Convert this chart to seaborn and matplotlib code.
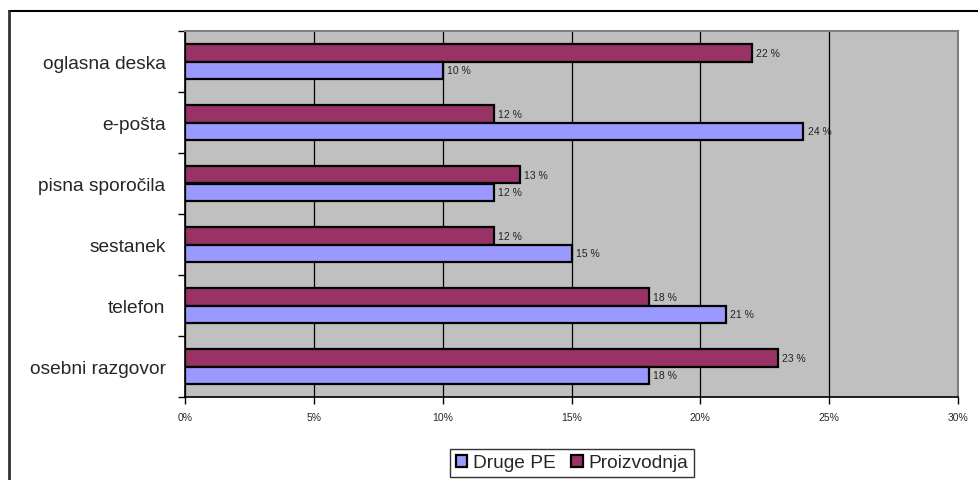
import matplotlib
matplotlib.use("Agg")
import matplotlib.pyplot as plt
from matplotlib.patches import Patch
from matplotlib.lines import Line2D
import seaborn as sns
import pandas as pd

categories = ["oglasna deska", "e-pošta", "pisna sporočila", "sestanek", "telefon", "osebni razgovor"]
proizvodnja = [22, 12, 13, 12, 18, 23]
druge_pe = [10, 24, 12, 15, 21, 18]
series_names = ["Druge PE", "Proizvodnja"]
x_ticks = [0, 5, 10, 15, 20, 25, 30]

df = pd.DataFrame({
    "kategorija": categories * 2,
    "delez": proizvodnja + druge_pe,
    "skupina": ["Proizvodnja"] * len(categories) + ["Druge PE"] * len(categories),
})

sns.set_style("white")
plt.rcParams["font.family"] = ["Liberation Sans", "DejaVu Sans"]

colors = {"Druge PE": "#9999FF", "Proizvodnja": "#993366"}

W, H = 979, 481
fig = plt.figure(figsize=(W / 100, H / 100), dpi=100)
ax = fig.add_axes([185 / W, 1 - 398 / H, (958 - 185) / W, (398 - 32) / H])
ax.set_facecolor("#C0C0C0")

sns.barplot(data=df, y="kategorija", x="delez", hue="skupina",
            hue_order=["Proizvodnja", "Druge PE"], order=categories,
            palette=colors, orient="h", width=0.56, dodge=True,
            edgecolor="black", linewidth=1.6, saturation=1, ax=ax, legend=False)

for cont in ax.containers:
    ax.bar_label(cont, labels=[f"{v:g} %" for v in cont.datavalues],
                 padding=3, fontsize=7.5, color="#222222")

ax.set_xlim(0, 30)
ax.set_ylim(5.5, -0.5)
ax.set_xticks(x_ticks)
ax.set_xticklabels([f"{t}%" for t in x_ticks], fontsize=7.5)
ax.xaxis.grid(True, color="black", linewidth=0.9)
ax.set_axisbelow(True)
ax.set_xlabel("")
ax.set_ylabel("")

ax.set_yticks(range(len(categories)))
ax.set_yticklabels(categories, fontsize=13.8)
ax.tick_params(axis="y", which="major", length=0, pad=14)
ax.set_yticks([i - 0.5 for i in range(len(categories) + 1)], minor=True)
ax.tick_params(axis="y", which="minor", length=5, width=1, color="black", left=True)
ax.tick_params(axis="x", length=5, width=1, color="black", bottom=True, pad=6)

for side in ["left", "bottom"]:
    ax.spines[side].set_color("black")
    ax.spines[side].set_linewidth(1.2)
for side in ["top", "right"]:
    ax.spines[side].set_color("#808080")
    ax.spines[side].set_linewidth(1.5)

handles = [Patch(facecolor=colors[n], edgecolor="black", linewidth=1.6, label=n) for n in series_names]
leg = fig.legend(handles=handles, loc="center", bbox_to_anchor=(572 / W, 1 - 464 / H),
                 ncol=2, frameon=True, fancybox=False, fontsize=13.8,
                 handlelength=0.6, handleheight=0.6, handletextpad=0.3,
                 columnspacing=0.8, borderpad=0.3)
leg.get_frame().set_edgecolor("black")
leg.get_frame().set_linewidth(1.0)

# outer chart frame (top and left edges)
fig.add_artist(Line2D([9 / W, 1.0], [1 - 12 / H, 1 - 12 / H], color="black", linewidth=1.5))
fig.add_artist(Line2D([9 / W, 9 / W], [1 - 12 / H, 0.0], color="#333333", linewidth=2.0))

fig.savefig("out.png", dpi=100)
